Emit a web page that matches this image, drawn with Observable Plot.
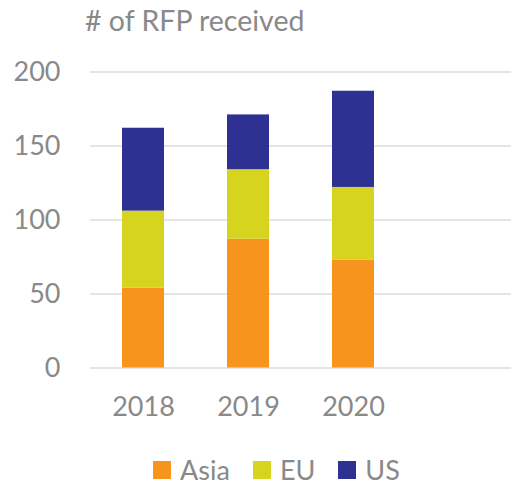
<!DOCTYPE html>
<html>
<head>
<meta charset="utf-8">
<script src="https://cdn.jsdelivr.net/npm/d3@7"></script>
<script src="https://cdn.jsdelivr.net/npm/@observablehq/plot@0.6"></script>
<style>
  body { margin: 0; background: #fff; font-family: Lato, "Open Sans", sans-serif; color: #898989; }
  #wrap { position: relative; width: 511px; height: 485px; overflow: hidden; }
  #title { position: absolute; left: 85px; top: 1px; font-size: 28.5px; line-height: 38px; white-space: nowrap; }
  #chart { position: absolute; left: 0; top: 0; }
  #legend { position: absolute; left: 153px; top: 457px; display: flex; align-items: center; font-size: 27px; line-height: 26px; height: 26px; }
  .sw { width: 18px; height: 18px; margin-right: 9px; }
  .lab { display: inline-block; height: 26px; line-height: 26px; margin-right: 23px; }
</style>
</head>
<body>
<div id="wrap">
  <div id="chart"></div>
  <div id="title"># of RFP received</div>
  <div id="legend"></div>
</div>
<script>
const years = ["2018", "2019", "2020"];
const xDomain = ["2018", "2019", "2020", ""];
const series = ["Asia", "EU", "US"];
const colors = ["#F7941D", "#D6D41F", "#2E3192"];
const asia = [54, 87, 73];
const eu = [52, 47, 49];
const us = [56, 37, 65];
const yTicks = [0, 50, 100, 150, 200];

const valuesBySeries = {Asia: asia, EU: eu, US: us};
const data = [];
for (const s of series) {
  years.forEach((y, i) => data.push({year: y, region: s, value: valuesBySeries[s][i]}));
}

const chart = Plot.plot({
  width: 511,
  height: 445,
  marginLeft: 90,
  marginRight: 0,
  marginTop: 71.5,
  marginBottom: 77.5,
  style: {fontFamily: "Lato, 'Open Sans', sans-serif", fontSize: "27px", color: "#898989", background: "transparent"},
  x: {domain: xDomain, paddingInner: 0.6, paddingOuter: 0.3, label: null, tickSize: 0, tickPadding: 29},
  y: {domain: [0, 200], ticks: yTicks, label: null, tickSize: 0, tickPadding: 30},
  color: {domain: series, range: colors},
  marks: [
    Plot.ruleY(yTicks, {stroke: "#dcdcdc", strokeWidth: 1.4}),
    Plot.barY(data, Plot.stackY({x: "year", y: "value", fill: "region", order: series})),
    Plot.axisY({ticks: yTicks, tickSize: 0, tickPadding: 30, label: null}),
    Plot.axisX({tickSize: 0, tickPadding: 29, label: null})
  ]
});
document.getElementById("chart").appendChild(chart);

const legend = document.getElementById("legend");
series.forEach((s, i) => {
  const sw = document.createElement("div");
  sw.className = "sw";
  sw.style.background = colors[i];
  const lab = document.createElement("span");
  lab.className = "lab";
  lab.textContent = s;
  legend.appendChild(sw);
  legend.appendChild(lab);
});
</script>
</body>
</html>
